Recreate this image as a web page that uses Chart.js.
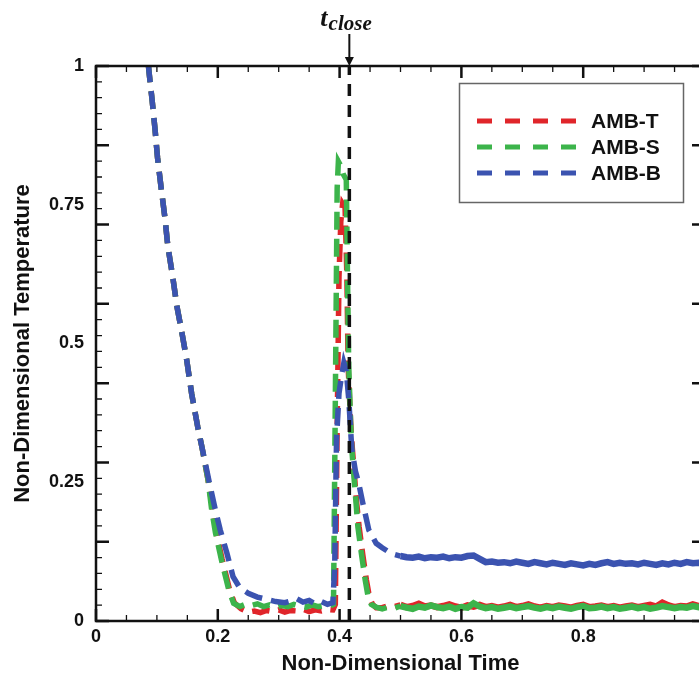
<!DOCTYPE html>
<html>
<head>
<meta charset="utf-8">
<script src="https://cdn.jsdelivr.net/npm/chart.js"></script>
<style>
  html, body { margin: 0; padding: 0; background: #fff; overflow: hidden; }
  #wrap { width: 720px; height: 679px; }
</style>
</head>
<body>
<div id="wrap"><canvas id="plot" width="720" height="679"></canvas></div>
<script>
// shared first cooling branch (all three sensors overlap here)
const descentTime = [0.078, 0.087, 0.092, 0.097, 0.101, 0.107, 0.113, 0.118, 0.126, 0.133, 0.141, 0.149, 0.157, 0.167, 0.174];
const descentTemp = [1.1, 0.99, 0.94, 0.885, 0.835, 0.78, 0.728, 0.675, 0.62, 0.566, 0.52, 0.47, 0.41, 0.35, 0.313];

// AMB-T
const redTime = [0.184, 0.191, 0.197, 0.207, 0.219, 0.227, 0.238, 0.25, 0.26, 0.27, 0.28, 0.29, 0.30, 0.31, 0.32, 0.33, 0.34, 0.35, 0.36, 0.37, 0.38, 0.389, 0.393, 0.396, 0.399, 0.402, 0.405, 0.409, 0.412, 0.414, 0.418, 0.421, 0.425, 0.428, 0.432, 0.438, 0.444, 0.449, 0.454, 0.46];
const redTemp = [0.254, 0.205, 0.162, 0.112, 0.058, 0.033, 0.022, 0.016, 0.018, 0.015, 0.019, 0.017, 0.02, 0.016, 0.019, 0.018, 0.021, 0.017, 0.02, 0.018, 0.021, 0.02, 0.03, 0.35, 0.62, 0.72, 0.752, 0.745, 0.62, 0.46, 0.36, 0.31, 0.254, 0.213, 0.17, 0.12, 0.074, 0.043, 0.03, 0.024];

// AMB-S
const greenTime = [0.184, 0.19, 0.196, 0.206, 0.218, 0.226, 0.236, 0.245, 0.255, 0.265, 0.275, 0.285, 0.295, 0.305, 0.315, 0.325, 0.335, 0.345, 0.355, 0.365, 0.375, 0.385, 0.39, 0.393, 0.396, 0.398, 0.402, 0.406, 0.411, 0.413, 0.415, 0.418, 0.42, 0.424, 0.427, 0.43, 0.436, 0.442, 0.447, 0.452, 0.46];
const greenTemp = [0.254, 0.2, 0.16, 0.11, 0.056, 0.032, 0.026, 0.03, 0.028, 0.031, 0.026, 0.029, 0.025, 0.028, 0.026, 0.03, 0.027, 0.025, 0.029, 0.026, 0.028, 0.027, 0.03, 0.4, 0.78, 0.828, 0.82, 0.805, 0.795, 0.62, 0.46, 0.36, 0.31, 0.254, 0.213, 0.17, 0.12, 0.074, 0.043, 0.03, 0.025];

// AMB-B
const blueTime = [0.186, 0.196, 0.204, 0.215, 0.225, 0.236, 0.25, 0.265, 0.28, 0.295, 0.31, 0.32, 0.33, 0.34, 0.35, 0.36, 0.37, 0.38, 0.389, 0.392, 0.395, 0.399, 0.403, 0.407, 0.411, 0.415, 0.42, 0.426, 0.431, 0.438, 0.448, 0.46];
const blueTemp = [0.25, 0.2, 0.164, 0.122, 0.08, 0.06, 0.05, 0.043, 0.039, 0.035, 0.033, 0.036, 0.04, 0.034, 0.037, 0.031, 0.035, 0.03, 0.033, 0.1, 0.33, 0.41, 0.44, 0.465, 0.45, 0.4, 0.31, 0.27, 0.25, 0.213, 0.164, 0.14];

// late plateau, read every 0.01
const tailTime = [0.47, 0.48, 0.49, 0.50, 0.51, 0.52, 0.53, 0.54, 0.55, 0.56,
                  0.57, 0.58, 0.59, 0.60, 0.61, 0.62, 0.63, 0.64, 0.65, 0.66,
                  0.67, 0.68, 0.69, 0.70, 0.71, 0.72, 0.73, 0.74, 0.75, 0.76,
                  0.77, 0.78, 0.79, 0.80, 0.81, 0.82, 0.83, 0.84, 0.85, 0.86,
                  0.87, 0.88, 0.89, 0.90, 0.91, 0.92, 0.93, 0.94, 0.95, 0.96,
                  0.97, 0.98, 0.99, 1.00];
const redTail = [0.024, 0.028, 0.026, 0.029, 0.025, 0.027, 0.031, 0.026, 0.028, 0.025,
                 0.027, 0.03, 0.026, 0.024, 0.028, 0.026, 0.029, 0.025, 0.027, 0.024,
                 0.026, 0.029, 0.025, 0.027, 0.03, 0.026, 0.024, 0.027, 0.025, 0.028,
                 0.026, 0.024, 0.027, 0.029, 0.025, 0.026, 0.028, 0.025, 0.027, 0.024,
                 0.026, 0.028, 0.025, 0.027, 0.029, 0.026, 0.033, 0.028, 0.025, 0.027,
                 0.026, 0.03, 0.027, 0.026];
const greenTail = [0.022, 0.025, 0.023, 0.027, 0.024, 0.022, 0.026, 0.024, 0.028, 0.025,
                   0.023, 0.026, 0.022, 0.025, 0.024, 0.032, 0.026, 0.023, 0.025, 0.022,
                   0.024, 0.026, 0.023, 0.025, 0.027, 0.024, 0.022, 0.025, 0.023, 0.026,
                   0.024, 0.022, 0.025, 0.027, 0.023, 0.024, 0.026, 0.023, 0.025, 0.022,
                   0.024, 0.026, 0.023, 0.025, 0.022, 0.024, 0.027, 0.025, 0.023, 0.025,
                   0.024, 0.027, 0.025, 0.026];
const blueTail = [0.132, 0.125, 0.12, 0.117, 0.115, 0.114, 0.116, 0.113, 0.115, 0.114,
                  0.116, 0.113, 0.115, 0.114, 0.117, 0.118, 0.112, 0.106, 0.107, 0.105,
                  0.106, 0.104, 0.107, 0.105, 0.103, 0.106, 0.104, 0.102, 0.105, 0.103,
                  0.101, 0.104, 0.102, 0.1, 0.103, 0.101, 0.104, 0.106, 0.103, 0.105,
                  0.103, 0.104, 0.102, 0.105, 0.103, 0.101, 0.104, 0.102, 0.105, 0.103,
                  0.106, 0.104, 0.105, 0.103];

// valve closing instant
const closeTime = [0.416, 0.416];
const closeTemp = [0, 1];

const seriesNames = ['AMB-T', 'AMB-S', 'AMB-B'];
const seriesColors = ['#e0252a', '#3cb44b', '#3b53b0'];

const xTicks = [0, 0.2, 0.4, 0.6, 0.8, 1];
const yTicks = [0, 0.25, 0.5, 0.75, 1];

function zip(times, temps) {
    return times.map((t, i) => ({ x: t, y: temps[i] }));
}

const solidFrom = 0.5;

function curve(i, times, temps, tail, order) {
    return {
        label: seriesNames[i],
        data: zip(descentTime.concat(times, tailTime), descentTemp.concat(temps, tail)),
        borderColor: seriesColors[i],
        borderWidth: 5.5,
        borderDash: [18, 9],
        pointRadius: 0,
        tension: 0,
        clip: 0,
        order: order,
        segment: {
            borderDash: ctx => ctx.p0.parsed.x >= solidFrom ? [] : undefined,
            borderWidth: ctx => ctx.p0.parsed.x >= solidFrom ? 6.5 : undefined
        }
    };
}

const tickFont = { family: '"Liberation Sans", Arial, sans-serif', size: 18, weight: 'bold' };
const titleFont = { family: '"Liberation Sans", Arial, sans-serif', size: 22, weight: 'bold' };

// inward tick marks on all four sides plus the frame
const frameTicks = {
    id: 'frameTicks',
    afterDatasetsDraw(chart) {
        const { ctx, chartArea: a, scales } = chart;
        ctx.save();
        ctx.strokeStyle = '#111';
        for (let i = 0; i <= 20; i++) {
            const px = scales.x.getPixelForValue(i * 0.05);
            const major = i % 4 === 0;
            const len = major ? 12 : 6;
            ctx.lineWidth = major ? 2.5 : 1.3;
            ctx.beginPath();
            ctx.moveTo(px, a.bottom); ctx.lineTo(px, a.bottom - len);
            ctx.moveTo(px, a.top); ctx.lineTo(px, a.top + len);
            ctx.stroke();
        }
        for (let i = 0; i <= 35; i++) {
            const py = scales.y.getPixelForValue(i / 35);
            const major = i % 5 === 0;
            const len = major ? 13 : 6;
            ctx.lineWidth = major ? 2.5 : 1.3;
            ctx.beginPath();
            ctx.moveTo(a.left, py); ctx.lineTo(a.left + len, py);
            ctx.moveTo(a.right, py); ctx.lineTo(a.right - len, py);
            ctx.stroke();
        }
        ctx.lineWidth = 2.5;
        ctx.strokeRect(a.left, a.top, a.right - a.left, a.bottom - a.top);
        ctx.restore();
    }
};

const annotations = {
    id: 'annotations',
    afterDraw(chart) {
        const { ctx, chartArea: a, scales } = chart;
        ctx.save();

        // legend
        ctx.fillStyle = '#fff';
        ctx.fillRect(459, 83, 224, 119);
        ctx.strokeStyle = '#666';
        ctx.lineWidth = 1.5;
        ctx.strokeRect(459.5, 83.5, 224, 119);
        seriesNames.forEach((name, i) => {
            const y = 121 + i * 26;
            ctx.strokeStyle = seriesColors[i];
            ctx.lineWidth = 5;
            ctx.setLineDash([15, 13]);
            ctx.beginPath();
            ctx.moveTo(477, y);
            ctx.lineTo(576, y);
            ctx.stroke();
            ctx.setLineDash([]);
            ctx.fillStyle = '#111';
            ctx.font = 'bold 21px "Liberation Sans", Arial, sans-serif';
            ctx.textBaseline = 'middle';
            ctx.textAlign = 'left';
            ctx.fillText(name, 591, y + 1);
        });

        // t_close marker
        const x = scales.x.getPixelForValue(closeTime[0]);
        ctx.strokeStyle = '#111';
        ctx.fillStyle = '#111';
        ctx.lineWidth = 2;
        ctx.beginPath();
        ctx.moveTo(x, 34);
        ctx.lineTo(x, a.top - 6);
        ctx.stroke();
        ctx.beginPath();
        ctx.moveTo(x - 4.5, a.top - 9);
        ctx.lineTo(x + 4.5, a.top - 9);
        ctx.lineTo(x, a.top);
        ctx.closePath();
        ctx.fill();

        ctx.textBaseline = 'alphabetic';
        ctx.textAlign = 'left';
        ctx.font = 'italic bold 26px "Liberation Serif", "DejaVu Serif", serif';
        const x0 = x - 29;
        ctx.fillText('t', x0, 26);
        const wt = ctx.measureText('t').width;
        ctx.font = 'italic bold 21px "Liberation Serif", "DejaVu Serif", serif';
        ctx.fillText('close', x0 + wt + 1, 30);
        ctx.restore();
    }
};

new Chart(document.getElementById('plot').getContext('2d'), {
    type: 'line',
    data: {
        datasets: [
            curve(0, redTime, redTemp, redTail, 3),
            curve(1, greenTime, greenTemp, greenTail, 2),
            curve(2, blueTime, blueTemp, blueTail, 1),
            {
                label: 't_close',
                data: zip(closeTime, closeTemp),
                borderColor: '#111',
                borderWidth: 3.5,
                borderDash: [12, 9],
                pointRadius: 0,
                clip: 0,
                order: 0
            }
        ]
    },
    options: {
        responsive: false,
        animation: false,
        devicePixelRatio: 1,
        layout: { padding: { top: 66, right: 15, left: 0, bottom: 0 } },
        plugins: {
            legend: { display: false },
            tooltip: { enabled: false }
        },
        scales: {
            x: {
                type: 'linear',
                min: 0,
                max: 1,
                afterFit: s => { s.height = 58; },
                afterBuildTicks: s => { s.ticks = xTicks.map(v => ({ value: v })); },
                grid: { display: false, drawTicks: false },
                border: { display: false },
                ticks: { font: tickFont, color: '#111', padding: 5, maxRotation: 0, callback: v => String(v) },
                title: { display: true, text: 'Non-Dimensional Time', font: titleFont, color: '#111', padding: { top: 0, bottom: 2 } }
            },
            y: {
                min: 0,
                max: 1,
                afterFit: s => { s.width = 96; },
                afterBuildTicks: s => { s.ticks = yTicks.map(v => ({ value: v })); },
                grid: { display: false, drawTicks: false },
                border: { display: false },
                ticks: { font: tickFont, color: '#111', padding: 12, callback: v => String(v) },
                title: { display: true, text: 'Non-Dimensional Temperature', font: titleFont, color: '#111', padding: { top: 10, bottom: 0 } }
            }
        }
    },
    plugins: [frameTicks, annotations]
});
</script>
</body>
</html>
